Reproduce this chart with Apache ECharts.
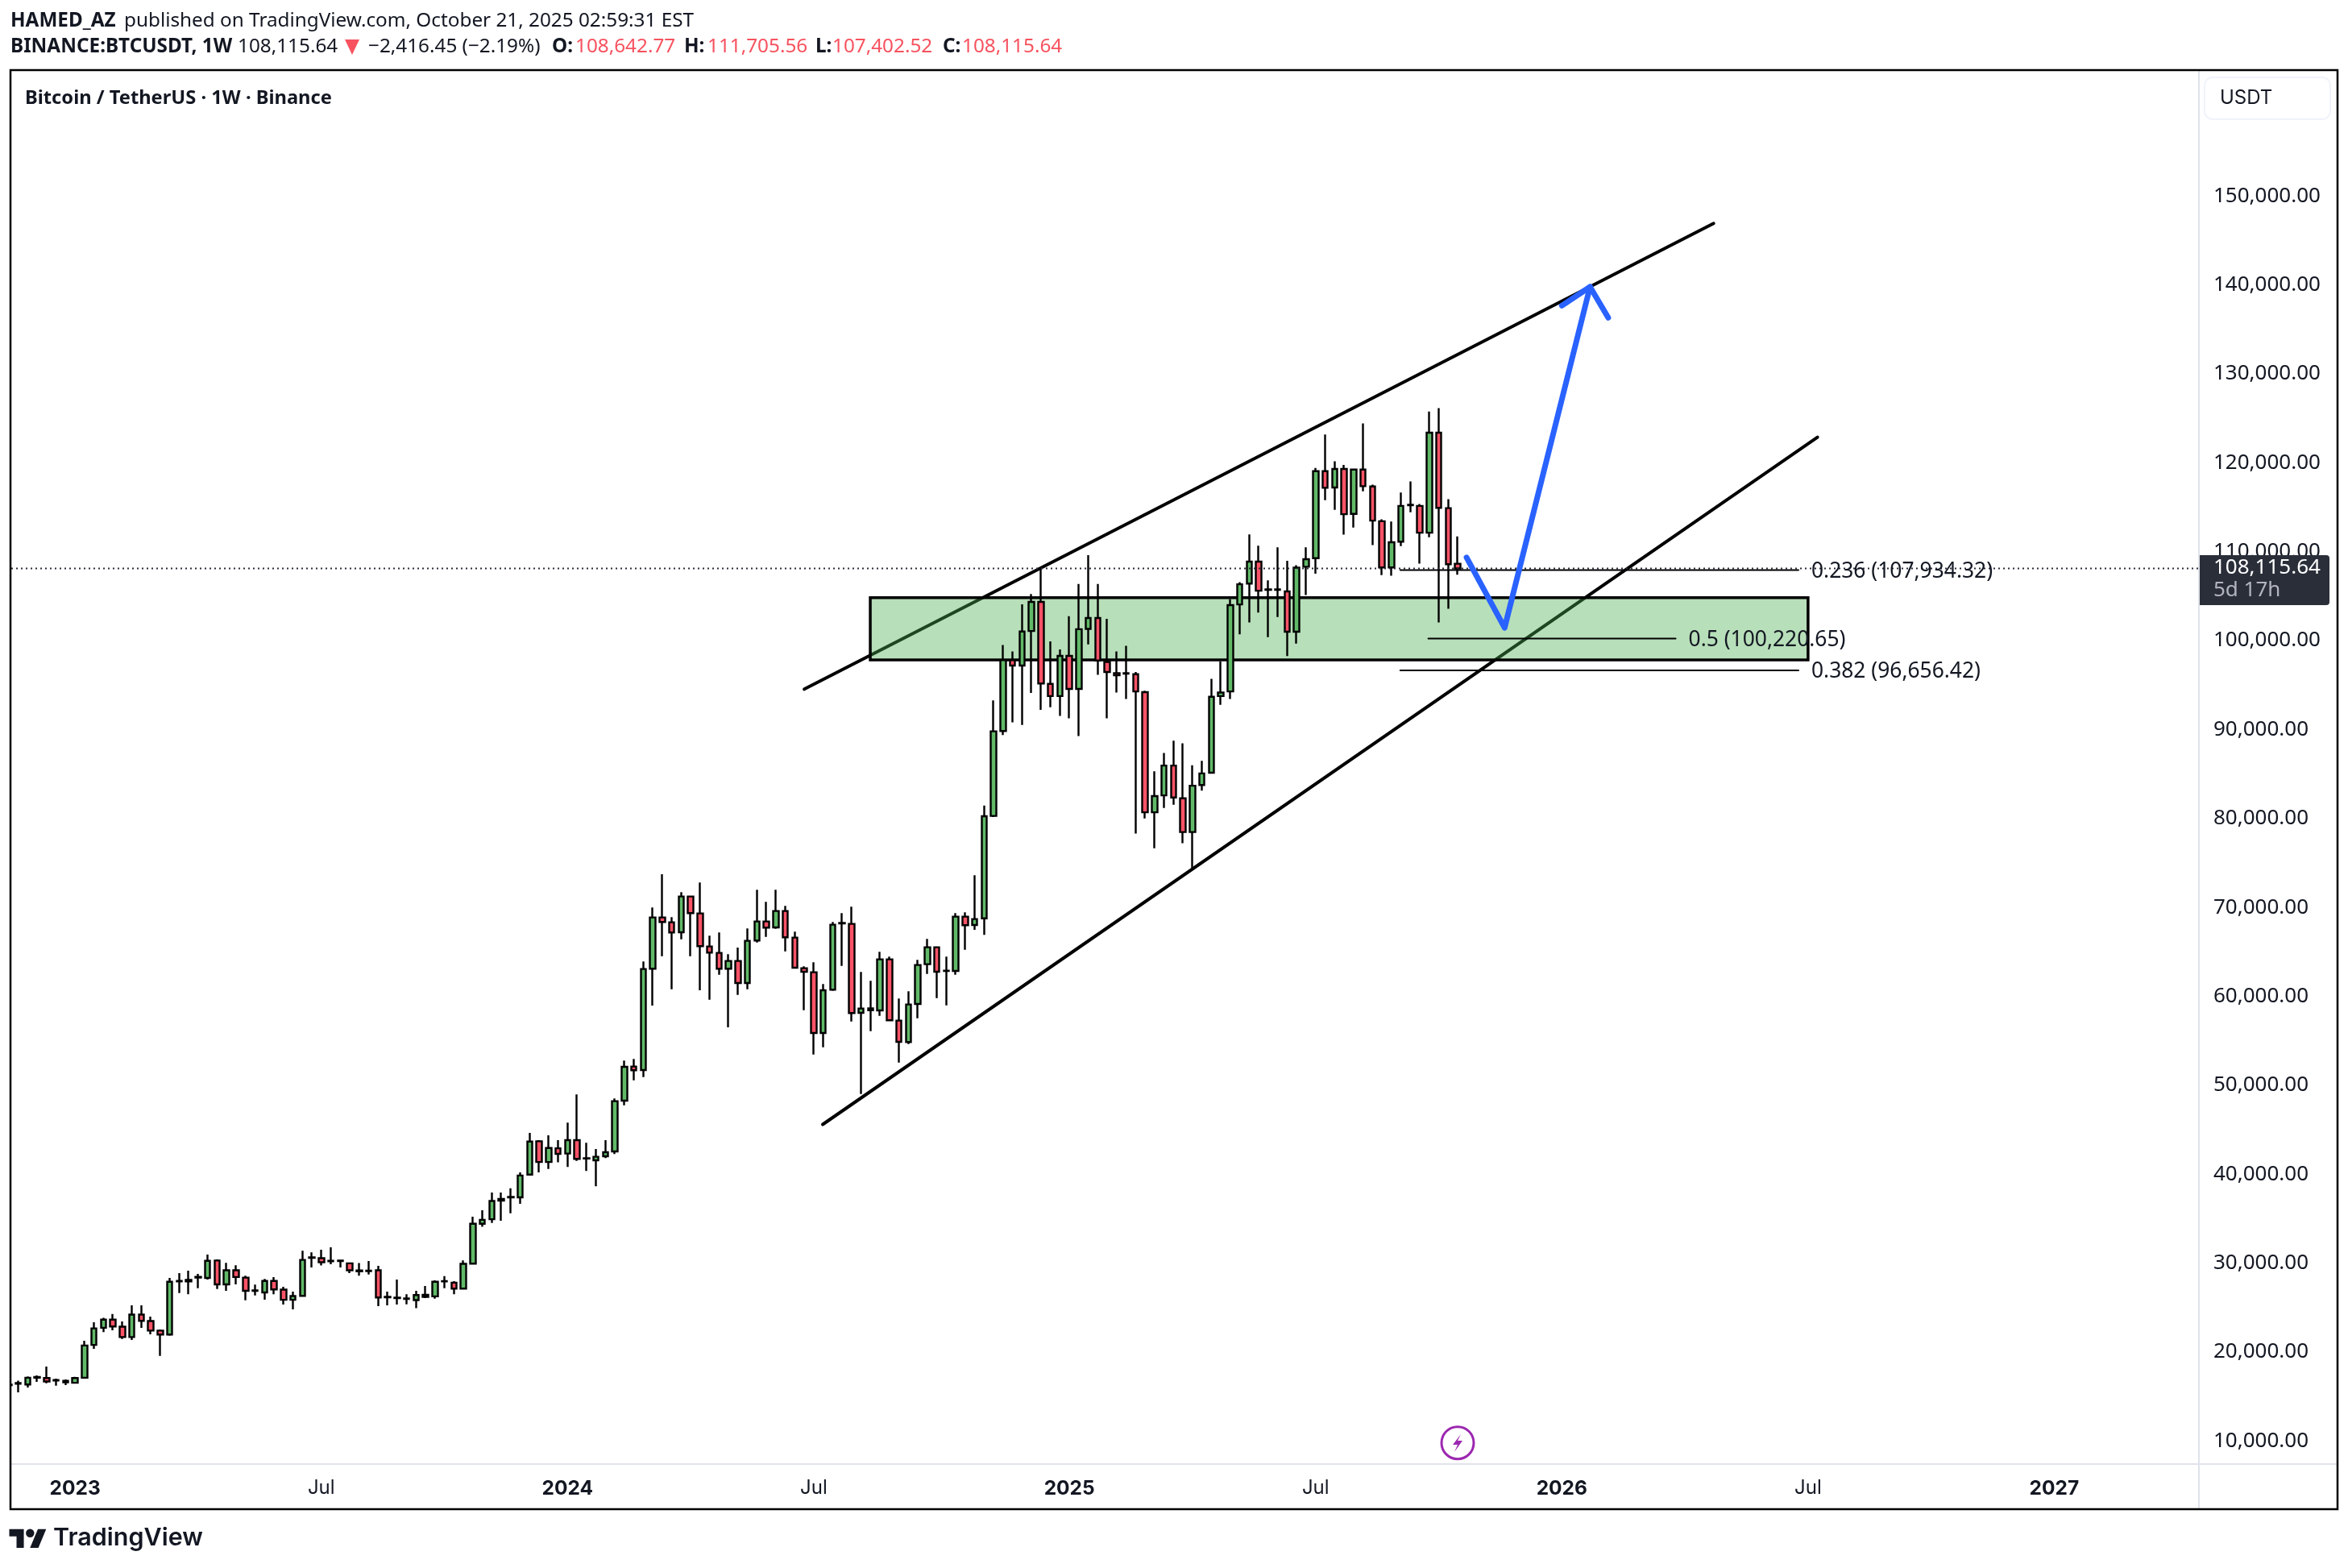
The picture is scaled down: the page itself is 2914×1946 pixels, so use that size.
<!DOCTYPE html>
<html lang="en">
<head>
    <meta charset="UTF-8">
    <title>BTCUSDT 1W</title>
    <script src="https://cdn.jsdelivr.net/npm/echarts@6/dist/echarts.min.js"></script>
    <style>
        html, body { margin: 0; padding: 0; background: #fff; }
        #chart { width: 2914px; height: 1946px; }
    </style>
</head>
<body>
<div id="chart"></div>

<script>
    // week numbers are counted from the first candle of 2023, first candle shown is week -7
    var firstWeek = -7;

    var opens = [
        16280, 16440, 16347, 17110, 17073, 16860, 16600, 16537, 17104, 20796,
        22720, 23635, 22847, 21680, 24203, 23478, 22405, 21963, 27950, 27950,
        28380, 28336, 30292, 27611, 29188, 28368, 26880, 26696, 27989, 27011,
        25875, 26317, 30590, 30545, 30260, 30290, 29977, 29180, 29090, 29188,
        26160, 26110, 26020, 25844, 26200, 26254, 27930, 27800, 27137, 29945,
        34425, 34930, 37020, 37390, 37391, 39947, 43701, 41366, 42912, 42316,
        43826, 41800, 41561, 42014, 42561, 48269, 52104, 51711, 63097, 68865,
        68321, 67204, 71220, 69318, 65603, 64878, 63097, 63972, 61496, 66268,
        68412, 67747, 69590, 66600, 63157, 62704, 55879, 60741, 68200, 68140,
        58144, 58430, 58416, 64154, 57268, 54852, 59140, 63610, 65513, 62840,
        62855, 68955, 68019, 68760, 80288, 89834, 97803, 97196, 101079, 104356,
        95133, 93758, 98288, 94567, 101322, 102535, 97600, 96347, 96290, 96225,
        94203, 80692, 82593, 85951, 82270, 78468, 83767, 85142, 93758, 94284,
        104072, 106418, 108886, 105710, 105750, 105529, 100998, 108301, 109269, 119050,
        117223, 119301, 114249, 119229, 117330, 113425, 108229, 111131, 115220, 115145,
        112135, 123385, 114894, 108642.77
    ];
    var closes = [
        16340, 16500, 17104, 17200, 16694, 16800, 16750, 17073, 20733, 22658,
        23635, 22878, 21680, 24203, 23509, 22405, 21963, 27895, 28000, 28100,
        28440, 30261, 27611, 29188, 28431, 26885, 26940, 27989, 27043, 25875,
        26286, 30356, 30640, 30103, 30200, 30240, 29188, 29080, 29160, 26128,
        26210, 26060, 25980, 26412, 26430, 27895, 27980, 27137, 29914, 34425,
        34867, 36981, 37220, 37450, 39852, 43670, 41366, 42944, 42281, 43826,
        41712, 41750, 41954, 42467, 48208, 52074, 51681, 63066, 68865, 68351,
        67174, 71220, 69348, 65633, 64909, 63097, 63972, 61496, 66237, 68412,
        67717, 69590, 66630, 63217, 62764, 55879, 60681, 68050, 68260, 58114,
        58627, 58640, 64154, 57298, 54882, 59080, 63519, 65513, 62764, 62880,
        68955, 67989, 68684, 80247, 89794, 97803, 97196, 101018, 104356, 95173,
        93758, 98288, 94567, 101282, 102535, 97762, 96468, 96104, 96330, 94284,
        80692, 82512, 85951, 82351, 78468, 83686, 85061, 93677, 94162, 103991,
        106337, 108886, 105609, 105760, 105700, 100998, 108198, 109161, 119050, 117187,
        119301, 114213, 119229, 117366, 113496, 108229, 111060, 115145, 115280, 112135,
        123385, 114930, 108588, 108115.64
    ];
    var lows = [
        16200, 15464, 16000, 16631, 16473, 16221, 16284, 16473, 17041, 20354,
        22247, 22437, 21458, 21364, 22720, 21995, 19565, 21837, 26633, 26507,
        27169, 28147, 27075, 26885, 27611, 25812, 26349, 25875, 26507, 25339,
        24803, 26254, 29504, 29724, 29882, 29504, 28873, 28589, 28715, 25150,
        25244, 25339, 25371, 24929, 26065, 26002, 27169, 26507, 27074, 29914,
        34078, 34520, 34773, 35593, 36665, 39884, 40199, 40578, 41335, 40806,
        41500, 40353, 38632, 41803, 42256, 47755, 50564, 50926, 58959, 64516,
        60801, 66419, 64516, 60681, 59624, 62432, 56513, 60167, 60801, 66056,
        66690, 67596, 65060, 63100, 58446, 53463, 54278, 60620, 63429, 57177,
        49023, 56090, 57812, 57208, 52557, 54641, 57540, 62523, 59805, 58989,
        62432, 65241, 67476, 66900, 80166, 89389, 90805, 90522, 94122, 92220,
        92504, 91533, 91250, 89268, 99582, 96144, 91250, 94162, 93434, 78306,
        80005, 76648, 81178, 81542, 77214, 74423, 83119, 85100, 92787, 93434,
        100715, 102050, 103142, 100391, 102657, 98248, 99663, 105112, 107513, 115790,
        114715, 111920, 112708, 116793, 110738, 107370, 107298, 110630, 114428, 108659,
        111633, 102031, 103572, 107402.52
    ];
    var highs = [
        16420, 16789, 17262, 17357, 18367, 17010, 16915, 17199, 21269, 23351,
        23856, 24266, 23446, 25244, 25244, 23982, 22531, 28336, 28873, 29157,
        28778, 30955, 30419, 30040, 29756, 28589, 27579, 28210, 28431, 27327,
        26791, 31397, 31207, 31491, 31775, 30387, 30040, 30008, 30229, 29693,
        26791, 28147, 26507, 26885, 27421, 28053, 28526, 27958, 30292, 35214,
        35940, 37928, 37928, 38401, 40199, 44648, 43827, 44364, 43827, 45789,
        48963, 43524, 42829, 43826, 48510, 52768, 52949, 63912, 69982, 73727,
        68895, 71704, 71300, 72791, 66811, 67174, 64727, 65482, 67627, 71975,
        70616, 71975, 70163, 67264, 63368, 63821, 61375, 68351, 69348, 70073,
        62734, 61738, 64999, 64456, 59744, 60560, 64093, 66449, 65600, 64456,
        69348, 69439, 73606, 81461, 93272, 99502, 98773, 104072, 105245, 108198,
        99906, 99016, 102737, 106378, 109614, 106378, 102454, 98773, 99421, 96468,
        94364, 85303, 87366, 88742, 88459, 85991, 86477, 95699, 97681, 104679,
        106580, 111934, 110666, 106782, 110484, 108975, 108481, 110487, 119409, 123171,
        120161, 119767, 119300, 124425, 117545, 113640, 113389, 116650, 117903, 115360,
        125750, 126144, 115897, 111705.56
    ];

    var priceTicks = [10000, 20000, 30000, 40000, 50000, 60000, 70000, 80000, 90000, 100000, 110000, 120000, 130000, 140000, 150000];
    var timeTickWeeks = [0, 26, 52, 78, 105, 131, 157, 183, 209];
    var timeTickLabels = ['2023', 'Jul', '2024', 'Jul', '2025', 'Jul', '2026', 'Jul', '2027'];

    var lastPrice = 108115.64;

    // drawn on the chart, [week, price]
    var upperLine = [[77.0, 94540], [173.03, 146912]];
    var lowerLine = [[78.95, 45592], [184.0, 122864]];
    var zoneBox = [83.97, 183.0, 97829, 104833];
    var fib236 = [[139.94, 107934.32], [181.99, 107934.32]];
    var fib500 = [[142.9, 100220.65], [169.02, 100220.65]];
    var fib382 = [[139.94, 96656.42], [181.99, 96656.42]];
    var arrowPath = [[146.94, 109345], [150.96, 101435], [159.98, 139780]];
    var arrowHead = [[157.0, 137670], [159.98, 139780], [161.9, 136310]];

    var UI_FONT = 'Inter';
    var HEAD_FONT = '"Noto Sans"';
    var TEXT = '#131722';
    var RED = '#f7525f';
    var GRID_GRAY = '#e0e3eb';

    var xMin = -6.74, xMax = 224.28;
    var yMin = 7400, yMax = 164064;

    var candles = [];
    for (var i = 0; i < opens.length; i++) {
        candles.push([firstWeek + i, opens[i], closes[i], lows[i], highs[i]]);
    }

    function headText(text, x, y, bold, color, size) {
        return {
            type: 'text', z: 100, silent: true,
            style: {
                text: text, x: x, y: y, fill: color || TEXT, verticalAlign: 'middle',
                font: (bold ? '700 ' : '400 ') + (size || 24.3) + 'px ' + HEAD_FONT
            }
        };
    }

    function uiRect(x, y, w, h, style, r) {
        return {type: 'rect', z: 90, silent: true, shape: {x: x, y: y, width: w, height: h, r: r || 0}, style: style};
    }

    function drawnLine(points, color, width, z, extra) {
        var s = {
            type: 'line', data: points, symbol: 'none', silent: true, z: z, clip: true,
            lineStyle: {color: color, width: width, cap: 'round', join: 'round'}
        };
        if (extra) s.endLabel = extra;
        return s;
    }

    function fibLabel(text) {
        return {
            show: true, formatter: text, distance: 16, offset: [0, 2],
            color: TEXT, fontFamily: HEAD_FONT, fontSize: 26.4
        };
    }

    var chart = echarts.init(document.getElementById('chart'));

    chart.setOption({
        animation: false,
        backgroundColor: '#fff',
        grid: {left: 14, right: 185, top: 88, bottom: 129},
        xAxis: {
            type: 'value', min: xMin, max: xMax, splitLine: {show: false},
            axisLine: {show: true, lineStyle: {color: GRID_GRAY, width: 2}},
            axisTick: {show: false},
            axisLabel: {
                customValues: timeTickWeeks,
                margin: 18, color: TEXT, fontFamily: UI_FONT, fontSize: 24,
                formatter: function (v) {
                    var t = timeTickLabels[timeTickWeeks.indexOf(v)];
                    return t === 'Jul' ? t : '{y|' + t + '}';
                },
                rich: {y: {fontWeight: 700, fontFamily: UI_FONT, fontSize: 24.5, color: TEXT}}
            }
        },
        yAxis: {
            type: 'value', position: 'right', min: yMin, max: yMax, scale: true, splitLine: {show: false},
            axisLine: {show: true, onZero: false, lineStyle: {color: GRID_GRAY, width: 2}},
            axisTick: {show: false},
            axisLabel: {
                customValues: priceTicks,
                margin: 18, color: TEXT, fontFamily: HEAD_FONT, fontSize: 26,
                formatter: function (v) {
                    return v.toLocaleString('en-US', {minimumFractionDigits: 2});
                }
            }
        },
        series: [
            drawnLine(upperLine, '#000', 4, 2),
            drawnLine(lowerLine, '#000', 4, 2),
            {
                type: 'custom', z: 3, silent: true, clip: true,
                data: [zoneBox],
                renderItem: function (params, api) {
                    var a = api.coord([api.value(0), api.value(3)]);
                    var b = api.coord([api.value(1), api.value(2)]);
                    return {
                        type: 'rect',
                        shape: {x: a[0], y: a[1], width: b[0] - a[0], height: b[1] - a[1]},
                        style: {fill: 'rgba(76,175,80,0.4)', stroke: '#000', lineWidth: 3.5}
                    };
                },
                encode: {x: [0, 1], y: [2, 3]}
            },
            {
                type: 'candlestick', z: 4, silent: true, clip: true,
                barWidth: 7,
                data: candles,
                itemStyle: {
                    color: '#61b968', color0: '#fa5367',
                    borderColor: '#000', borderColor0: '#000', borderColorDoji: '#000', borderWidth: 2.4
                }
            },
            {
                type: 'line', z: 5, silent: true, symbol: 'none',
                data: [[xMin, lastPrice], [xMax, lastPrice]],
                lineStyle: {color: '#2a2e39', width: 2, type: [2, 4]}
            },
            drawnLine(fib236, '#000', 2, 5, fibLabel('0.236 (107,934.32)')),
            drawnLine(fib500, '#000', 2, 5, fibLabel('0.5 (100,220.65)')),
            drawnLine(fib382, '#000', 2, 5, fibLabel('0.382 (96,656.42)')),
            drawnLine(arrowPath, '#2962ff', 7, 6),
            drawnLine(arrowHead, '#2962ff', 7, 6)
        ],
        graphic: {
            elements: [
                // the week cut by the left edge of the pane
                uiRect(0, 1640, 12, 120, {fill: '#fff'}),

                headText('HAMED_AZ', 13, 26.5, true),
                headText('published on TradingView.com, October 21, 2025 02:59:31 EST', 154, 26.5, false),
                headText('BINANCE:BTCUSDT, 1W', 13, 58, true),
                headText('108,115.64', 295, 58, false),
                {type: 'polygon', z: 100, silent: true, shape: {points: [[428, 49], [446, 49], [437, 68]]}, style: {fill: RED}},
                headText('\u22122,416.45 (\u22122.19%)', 457, 58, false),
                headText('O:', 685, 58, true),
                headText('108,642.77', 714, 58, false, RED),
                headText('H:', 849, 58, true),
                headText('111,705.56', 878, 58, false, RED),
                headText('L:', 1012, 58, true),
                headText('107,402.52', 1033, 58, false, RED),
                headText('C:', 1170, 58, true),
                headText('108,115.64', 1194, 58, false, RED),
                headText('Bitcoin / TetherUS \u00b7 1W \u00b7 Binance', 31, 122, true, TEXT, 23.7),

                // outer frame and the parts of the scales outside the grid
                uiRect(13, 87, 2888, 1786, {fill: 'none', stroke: '#000', lineWidth: 2.5}),
                {type: 'line', z: 80, silent: true, shape: {x1: 2729, y1: 1817, x2: 2729, y2: 1873}, style: {stroke: GRID_GRAY, lineWidth: 2}},
                {type: 'line', z: 80, silent: true, shape: {x1: 2729, y1: 1817, x2: 2900, y2: 1817}, style: {stroke: GRID_GRAY, lineWidth: 2}},

                // currency button
                uiRect(2736, 96, 156, 52, {fill: '#fff', stroke: '#f0f3fa', lineWidth: 2}, 10),
                {type: 'text', z: 91, silent: true, style: {text: 'USDT', x: 2755, y: 122, fill: TEXT, verticalAlign: 'middle', font: '400 24px ' + UI_FONT}},

                // last price tag
                uiRect(2730, 689, 161, 62, {fill: '#2a2e39'}, [0, 4, 4, 0]),
                {type: 'text', z: 91, silent: true, style: {text: '108,115.64', x: 2747, y: 705, fill: '#fff', verticalAlign: 'middle', font: '400 26px ' + HEAD_FONT}},
                {type: 'text', z: 91, silent: true, style: {text: '5d 17h', x: 2747, y: 733, fill: '#b2b5be', verticalAlign: 'middle', font: '400 26px ' + HEAD_FONT}},

                // event marker
                {type: 'circle', z: 90, silent: true, shape: {cx: 1809, cy: 1790.7, r: 20}, style: {fill: '#fff', stroke: '#9c27b0', lineWidth: 3}},
                {type: 'polygon', z: 91, silent: true, shape: {points: [[1813, 1780], [1803, 1793], [1809, 1793], [1805, 1802], [1815, 1788], [1809, 1788]]}, style: {fill: '#9c27b0'}},

                // logo
                {type: 'polygon', z: 90, silent: true, shape: {points: [[29.56, 1920.9], [20.53, 1920.9], [20.53, 1906.7], [11.5, 1906.7], [11.5, 1897.7], [29.56, 1897.7]]}, style: {fill: TEXT}},
                {type: 'polygon', z: 90, silent: true, shape: {points: [[47.6, 1920.9], [37.3, 1920.9], [47, 1897.7], [57.3, 1897.7]]}, style: {fill: TEXT}},
                {type: 'circle', z: 90, silent: true, shape: {cx: 37.3, cy: 1902.8, r: 5.2}, style: {fill: TEXT}},
                {type: 'text', z: 90, silent: true, style: {text: 'TradingView', x: 66, y: 1909, fill: TEXT, verticalAlign: 'middle', font: '600 30.5px ' + UI_FONT}}
            ]
        }
    });
</script>
</body>
</html>
